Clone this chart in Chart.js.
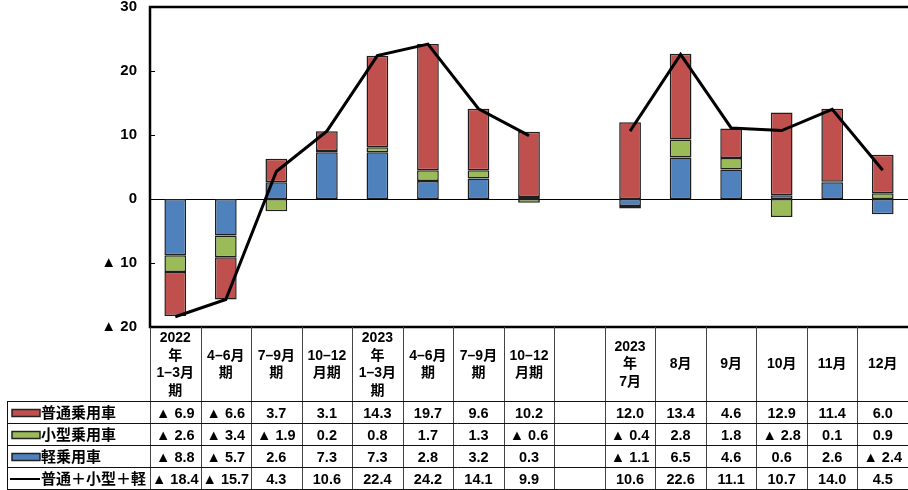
<!DOCTYPE html>
<html>
<head>
<meta charset="utf-8">
<script src="https://cdn.jsdelivr.net/npm/chart.js@4/dist/chart.umd.min.js"></script>
<style>
  html, body { margin: 0; padding: 0; background: #fff; }
  #wrap { width: 908px; height: 490px; }
</style>
</head>
<body>
<div id="wrap"><canvas id="app" width="908" height="490"></canvas></div>
<script>
// categories (header cells of the table), one gap column between quarters and months
const periods = [
  ['2022', '年', '1–3月', '期'],
  ['4–6月', '期'],
  ['7–9月', '期'],
  ['10–12', '月期'],
  ['2023', '年', '1–3月', '期'],
  ['4–6月', '期'],
  ['7–9月', '期'],
  ['10–12', '月期'],
  [],
  ['2023', '年', '7月'],
  ['8月'],
  ['9月'],
  ['10月'],
  ['11月'],
  ['12月']
];

const seriesNames = ['普通乗用車', '小型乗用車', '軽乗用車', '普通＋小型＋軽'];

const futsu = [-6.9, -6.6, 3.7, 3.1, 14.3, 19.7, 9.6, 10.2, null, 12.0, 13.4, 4.6, 12.9, 11.4, 6.0];
const kogata = [-2.6, -3.4, -1.9, 0.2, 0.8, 1.7, 1.3, -0.6, null, -0.4, 2.8, 1.8, -2.8, 0.1, 0.9];
const kei = [-8.8, -5.7, 2.6, 7.3, 7.3, 2.8, 3.2, 0.3, null, -1.1, 6.5, 4.6, 0.6, 2.6, -2.4];
const total = [-18.4, -15.7, 4.3, 10.6, 22.4, 24.2, 14.1, 9.9, null, 10.6, 22.6, 11.1, 10.7, 14.0, 4.5];

const yTicks = [30, 20, 10, 0, -10, -20];

const RED = '#C0504D', GREEN = '#9BBB59', BLUE = '#4F81BD';
const FONT = '"Liberation Sans", "Noto Sans CJK JP", sans-serif';

const fmt = v => v == null ? '' : (v < 0 ? '▲ ' + (-v).toFixed(1) : v.toFixed(1));

// frame, zero line and data table drawn around the library's scales
const framePlugin = {
  id: 'frame',
  beforeDatasetsDraw(chart) {
    const { ctx, chartArea: a, scales: { y } } = chart;
    ctx.save();
    ctx.strokeStyle = '#000';
    ctx.lineWidth = 1.2;
    const y0 = Math.round(y.getPixelForValue(0)) + 0.5;
    ctx.beginPath(); ctx.moveTo(a.left, y0); ctx.lineTo(a.right, y0); ctx.stroke();
    // small inward ticks
    ctx.lineWidth = 1;
    yTicks.forEach(t => {
      const py = Math.round(y.getPixelForValue(t)) + 0.5;
      ctx.beginPath(); ctx.moveTo(a.left, py); ctx.lineTo(a.left + 5, py); ctx.stroke();
    });
    ctx.restore();
  },
  afterDraw(chart) {
    const { ctx, chartArea: a, scales: { x } } = chart;
    const n = periods.length;
    const colW = (a.right - a.left) / n;
    const rowTop = [a.bottom, 402, 424, 446, 468, 490];
    ctx.save();

    // plot frame
    ctx.strokeStyle = '#000';
    ctx.lineWidth = 2.5;
    ctx.beginPath();
    ctx.moveTo(a.right + 2, a.top); ctx.lineTo(a.left, a.top);
    ctx.lineTo(a.left, a.bottom); ctx.lineTo(a.right + 2, a.bottom);
    ctx.stroke();

    // table grid
    ctx.lineWidth = 1;
    ctx.strokeStyle = '#444';
    for (let i = 0; i <= n; i++) {
      const px = Math.round(a.left + i * colW) + 0.5;
      ctx.beginPath(); ctx.moveTo(px, a.bottom); ctx.lineTo(px, 490); ctx.stroke();
    }
    ctx.strokeStyle = '#111';
    for (let r = 1; r < rowTop.length; r++) {
      const py = Math.round(rowTop[r]) - 0.5;
      ctx.beginPath(); ctx.moveTo(7, py); ctx.lineTo(a.right, py); ctx.stroke();
    }
    ctx.beginPath(); ctx.moveTo(7.5, 402); ctx.lineTo(7.5, 490); ctx.stroke();

    // header
    ctx.fillStyle = '#000';
    ctx.textAlign = 'center';
    ctx.textBaseline = 'middle';
    ctx.font = 'bold 14px ' + FONT;
    const hc = (a.bottom + 402) / 2;
    const lh = 17.5;
    periods.forEach((lines, i) => {
      const cx = x.getPixelForValue(i);
      lines.forEach((t, k) => {
        ctx.fillText(t, cx, hc + (k - (lines.length - 1) / 2) * lh);
      });
    });

    // rows
    const rows = [futsu, kogata, kei, total];
    const colors = [RED, GREEN, BLUE, null];
    rows.forEach((vals, r) => {
      const cy = (rowTop[r + 1] + rowTop[r + 2]) / 2;
      ctx.textAlign = 'center';
      ctx.font = 'bold 14.5px ' + FONT;
      vals.forEach((v, i) => ctx.fillText(fmt(v), x.getPixelForValue(i), cy + 0.5));
      // legend key
      if (colors[r]) {
        ctx.fillStyle = colors[r];
        ctx.fillRect(12, cy - 3.5, 28, 7);
        ctx.strokeStyle = '#222';
        ctx.lineWidth = 1.5;
        ctx.strokeRect(12, cy - 3.5, 28, 7);
      } else {
        ctx.strokeStyle = '#000';
        ctx.lineWidth = 2;
        ctx.beginPath(); ctx.moveTo(10, cy); ctx.lineTo(40, cy); ctx.stroke();
      }
      ctx.fillStyle = '#000';
      ctx.textAlign = 'left';
      ctx.font = 'bold 15px ' + FONT;
      ctx.fillText(seriesNames[r], 41, cy + 0.5);
    });
    ctx.restore();
  }
};

const barStyle = {
  type: 'bar',
  stack: 'cars',
  borderColor: '#1e1e1e',
  borderWidth: 1.5,
  borderSkipped: false,
  barPercentage: 0.43,
  categoryPercentage: 1,
  order: 1
};

new Chart(document.getElementById('app'), {
  data: {
    labels: periods.map(p => p.join('')),
    datasets: [
      { ...barStyle, label: seriesNames[2], data: kei, backgroundColor: BLUE },
      { ...barStyle, label: seriesNames[1], data: kogata, backgroundColor: GREEN },
      { ...barStyle, label: seriesNames[0], data: futsu, backgroundColor: RED },
      {
        type: 'line',
        label: seriesNames[3],
        data: total,
        stack: 'line',
        borderColor: '#000',
        borderWidth: 3,
        pointRadius: 0,
        tension: 0,
        spanGaps: false,
        order: 0
      }
    ]
  },
  options: {
    responsive: false,
    maintainAspectRatio: false,
    animation: false,
    layout: { padding: { top: 7, bottom: 163, left: 0, right: 0 } },
    plugins: { legend: { display: false }, tooltip: { enabled: false } },
    scales: {
      x: { display: false, stacked: true, offset: true },
      y: {
        stacked: true,
        min: -20,
        max: 30,
        afterFit: s => { s.width = 150; s.paddingTop = 0; s.paddingBottom = 0; },
        afterBuildTicks: s => { s.ticks = yTicks.map(v => ({ value: v })); },
        grid: { display: false, drawTicks: false },
        border: { display: false },
        ticks: {
          padding: 13,
          color: '#000',
          font: { family: FONT, size: 15, weight: 'bold' },
          callback: v => v < 0 ? '▲ ' + (-v) : String(v)
        }
      }
    }
  },
  plugins: [framePlugin]
});
</script>
</body>
</html>
